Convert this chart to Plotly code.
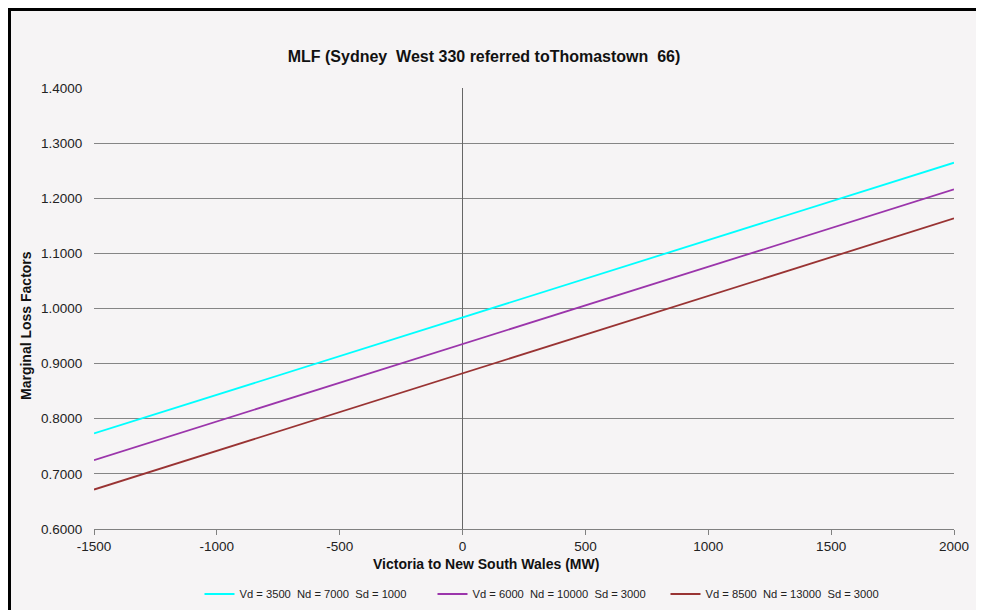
import plotly.graph_objects as go

# Data
flow_mw = [-1500, 0, 2000]
series_names = [
    "Vd = 3500\u00a0 Nd = 7000\u00a0 Sd = 1000",
    "Vd = 6000\u00a0 Nd = 10000\u00a0 Sd = 3000",
    "Vd = 8500\u00a0 Nd = 13000\u00a0 Sd = 3000",
]
mlf_low = [0.7733, 0.9838, 1.2645]
mlf_mid = [0.7249, 0.9353, 1.2161]
mlf_high = [0.6716, 0.8824, 1.1634]
series_values = [mlf_low, mlf_mid, mlf_high]
series_colors = ["#00FFFF", "#9B35AB", "#993333"]

x_ticks = [-1500, -1000, -500, 0, 500, 1000, 1500, 2000]
x_tick_labels = ["-1500", "-1000", "-500", "0", "500", "1000", "1500", "2000"]
y_ticks = [0.6, 0.7, 0.8, 0.9, 1.0, 1.1, 1.2, 1.3, 1.4]
y_tick_labels = ["%.4f" % v for v in y_ticks]

chart_title = "MLF (Sydney\u00a0 West 330 referred toThomastown\u00a0 66)"
x_title = "Victoria to New South Wales (MW)"
y_title = "Marginal Loss Factors"

BG = "#F6F4F5"
FONT = "Liberation Sans, Arial, sans-serif"

fig = go.Figure()
for name, vals, col in zip(series_names, series_values, series_colors):
    fig.add_trace(go.Scatter(x=flow_mw, y=vals, mode="lines", name=name,
                             line=dict(color=col, width=1.8)))

W, H = 984, 610
L, R, T, B = 86, 38, 80, 89
pw = W - L - R
ph = H - T - B

def px_x(p):
    return (p - L) / pw

def px_y(p):
    return (H - B - p) / ph

fig.update_layout(
    width=W, height=H,
    margin=dict(l=L, r=R, t=T, b=B, autoexpand=False),
    paper_bgcolor="white",
    plot_bgcolor="rgba(0,0,0,0)",
    font=dict(family=FONT, color="#222222"),
    title=dict(text="<b>%s</b>" % chart_title,
               x=476 / W, xref="container", xanchor="center",
               y=1 - 48 / H, yref="container", yanchor="middle",
               font=dict(size=16, color="#111111", family=FONT)),
    showlegend=True,
    legend=dict(orientation="h", x=px_x(541), xanchor="center",
                y=px_y(586), yanchor="middle",
                font=dict(size=11.2, family=FONT, color="#222222"),
                bgcolor="rgba(0,0,0,0)", entrywidth=188, entrywidthmode="pixels"),
    shapes=[
        dict(type="rect", xref="paper", yref="paper", layer="below",
             x0=px_x(1.5), x1=px_x(1010), y0=px_y(640), y1=px_y(1.5),
             fillcolor=BG, line=dict(color="black", width=3)),
    ],
    annotations=[
        dict(text="<b>%s</b>" % x_title, xref="paper", yref="paper",
             x=px_x(478), y=px_y(556), xanchor="center", yanchor="middle",
             showarrow=False, font=dict(size=14, family=FONT, color="#111111")),
        dict(text="<b>%s</b>" % y_title, xref="paper", yref="paper",
             x=px_x(18), y=px_y(318), xanchor="center", yanchor="middle",
             textangle=-90, showarrow=False,
             font=dict(size=14, family=FONT, color="#111111")),
    ],
)

fig.update_xaxes(
    range=[-1500, 2000], tickvals=x_ticks, ticktext=x_tick_labels,
    ticks="outside", ticklen=5, tickcolor="#808080",
    showline=True, linecolor="#808080", linewidth=1.2,
    showgrid=False, automargin=False,
    zeroline=True, zerolinecolor="#666666", zerolinewidth=1,
    tickfont=dict(size=13.5, family=FONT, color="#222222"),
)
fig.update_yaxes(
    range=[0.6, 1.4], tickvals=y_ticks, ticktext=y_tick_labels,
    showline=False, ticks="outside", ticklen=8, tickcolor="rgba(0,0,0,0)",
    showgrid=True, gridcolor="#858585", gridwidth=1.3,
    zeroline=False, automargin=False,
    tickfont=dict(size=13.5, family=FONT, color="#222222"),
)

fig.write_html("out.html")
